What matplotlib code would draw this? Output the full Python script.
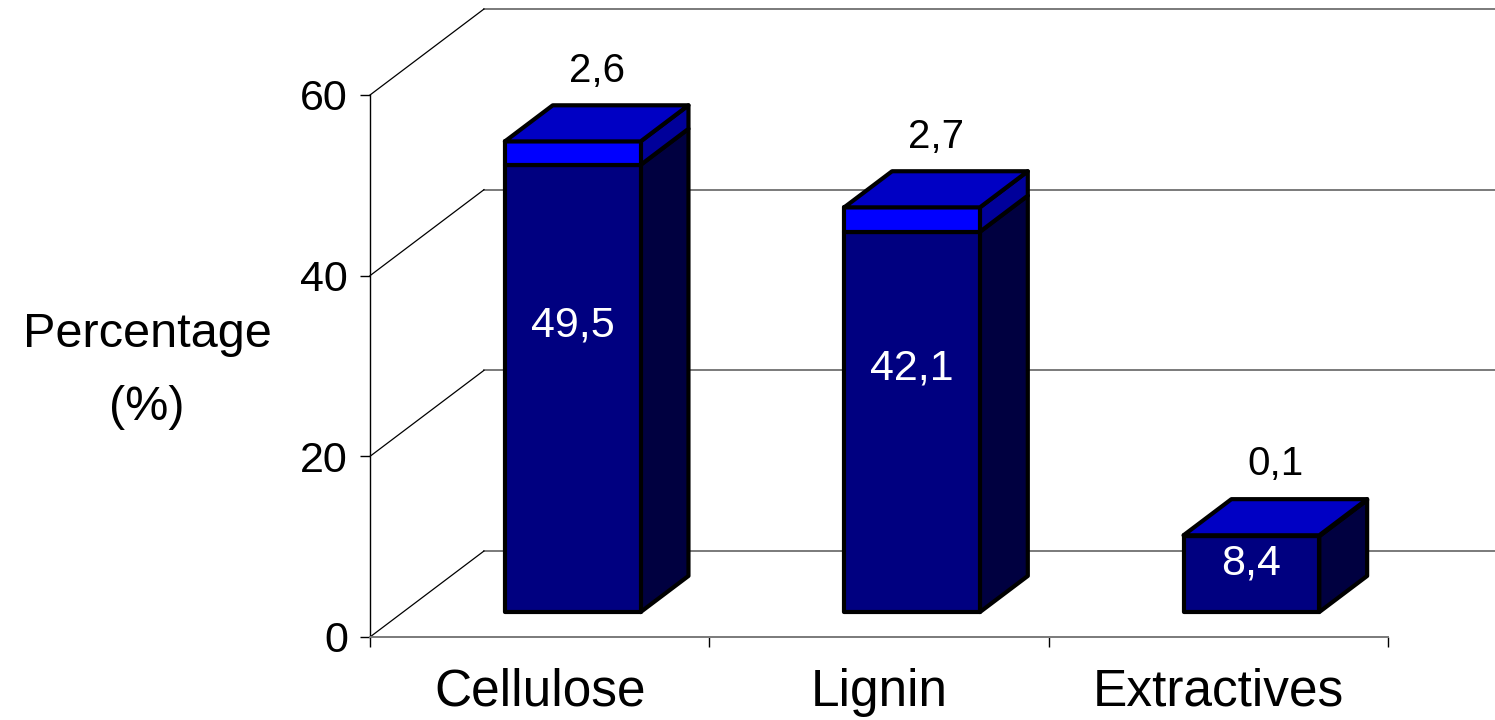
import matplotlib
matplotlib.use("Agg")
import matplotlib.pyplot as plt
from matplotlib.patches import Polygon
from matplotlib.lines import Line2D

# Composition data (two stacked parts per component)
categories = ["Cellulose", "Lignin", "Extractives"]
base_values = [49.5, 42.1, 8.4]
top_values = [2.6, 2.7, 0.1]
y_ticks = [0, 20, 40, 60]

FONT = "Liberation Sans"
plt.rcParams["font.family"] = [FONT, "DejaVu Sans"]

W, H = 1495, 720
fig = plt.figure(figsize=(W / 100, H / 100), dpi=100)
fig.patch.set_facecolor("white")
ax = fig.add_axes([370 / W, 83 / H, 1018 / W, 542 / H])
ax.set_xlim(0, len(categories))
ax.set_ylim(0, 60)
ax.patch.set_alpha(0)

# Oblique depth vector (pixels) expressed in data units
o = ax.transData.transform((0, 0))
ux = ax.transData.transform((1, 0))[0] - o[0]
uy = ax.transData.transform((0, 1))[1] - o[1]
DX, DY = 114 / ux, 86 / uy


def P(x, v, d):
    return (x + d * DX, v + d * DY)


# Walls: back-wall gridlines and side-wall diagonals
for t in y_ticks:
    ax.add_line(Line2D([P(0, t, 1)[0], P(3.05, t, 1)[0]], [P(0, t, 1)[1]] * 2,
                       color="#7a7a7a", lw=1.4, clip_on=False, zorder=1))
    ax.add_line(Line2D([0, P(0, t, 1)[0]], [t, P(0, t, 1)[1]],
                       color="black", lw=0.9, clip_on=False, zorder=1))

# Bars
bar_w = 0.4
d_front, d_back = 0.29, 0.71
lw = 3.0
colors = {
    "base_front": "#000080", "base_side": "#000040",
    "top_front": "#0000FF", "top_side": "#00009A", "cap": "#0000C4",
}


def poly(pts, fc, z):
    ax.add_patch(Polygon(pts, closed=True, facecolor=fc, edgecolor="black",
                         lw=lw, joinstyle="round", clip_on=False, zorder=z))


for i, (b, t) in enumerate(zip(base_values, top_values)):
    xc = i + 0.5
    x0, x1 = xc - bar_w / 2, xc + bar_w / 2
    segs = [(0, b, "base"), (b, b + t, "top")]
    for v0, v1, kind in segs:
        poly([P(x1, v0, d_front), P(x1, v0, d_back), P(x1, v1, d_back), P(x1, v1, d_front)],
             colors[kind + "_side"], 3)
        poly([P(x0, v0, d_front), P(x1, v0, d_front), P(x1, v1, d_front), P(x0, v1, d_front)],
             colors[kind + "_front"], 3)
    vt = b + t
    poly([P(x0, vt, d_front), P(x1, vt, d_front), P(x1, vt, d_back), P(x0, vt, d_back)],
         colors["cap"], 4)

    # value labels
    lx, ly = P(xc, b * 0.64, d_front)
    ax.text(lx, ly, f"{b:.1f}".replace(".", ","), color="white", fontsize=31,
            ha="center", va="center", zorder=6)
    tx, ty = P(xc, vt, 0.5)
    ax.annotate(f"{t:.1f}".replace(".", ","), (tx, ty), xytext=(0, 38),
                textcoords="offset points", ha="center", va="center",
                fontsize=29, color="black", zorder=6, annotation_clip=False)

# Axes styling
for s in ("top", "right"):
    ax.spines[s].set_visible(False)
ax.spines["left"].set_color("black")
ax.spines["left"].set_linewidth(1.0)
ax.spines["bottom"].set_color("#7a7a7a")
ax.spines["bottom"].set_linewidth(1.4)

ax.set_yticks(y_ticks)
ax.set_yticklabels([str(v) for v in y_ticks], fontsize=31)
ax.tick_params(axis="y", direction="out", length=7.5, width=1.0, pad=8.5, color="black")

ax.set_xticks([i + 0.5 for i in range(len(categories))])
ax.set_xticklabels(categories, fontsize=37)
ax.set_xticks(range(len(categories) + 1), minor=True)
ax.tick_params(axis="x", which="major", length=0, pad=22)
ax.tick_params(axis="x", which="minor", direction="out", length=7.5, width=1.0, color="black")

fig.text(147 / W, 1 - 347 / H, "Percentage", fontsize=35, ha="center", va="baseline")
fig.text(147 / W, 1 - 420 / H, "(%)", fontsize=35, ha="center", va="baseline")

fig.savefig("out.png", dpi=100, facecolor="white")
